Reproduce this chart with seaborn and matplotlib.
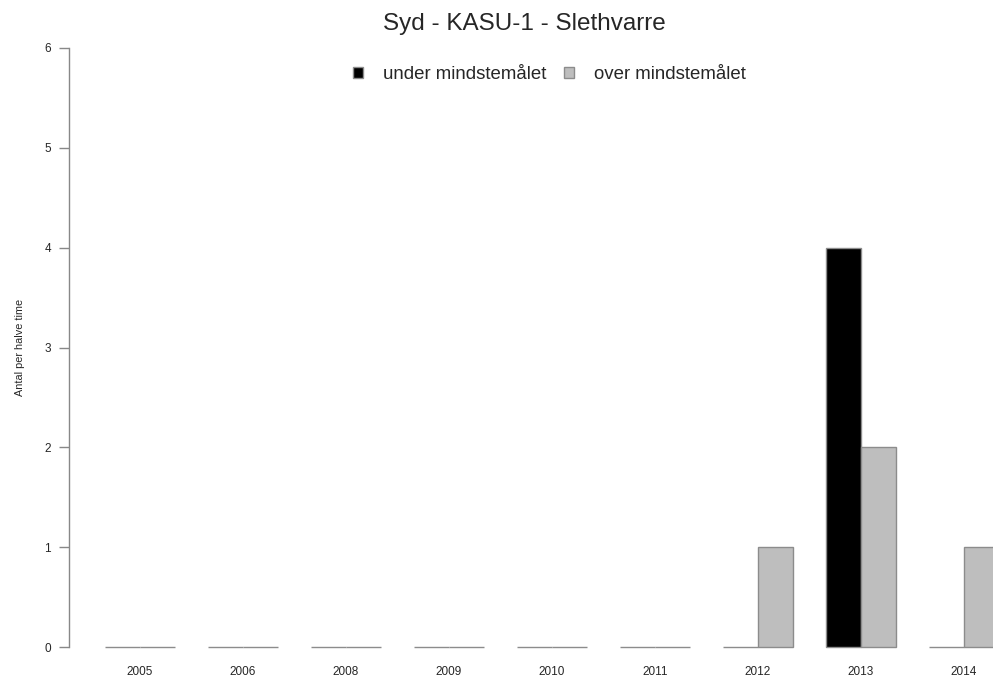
import pandas as pd
import matplotlib
matplotlib.use('Agg')
import matplotlib.pyplot as plt
import seaborn as sns
from matplotlib.patches import Patch

years = ['2005', '2006', '2008', '2009', '2010', '2011', '2012', '2013', '2014']
under = [0, 0, 0, 0, 0, 0, 0, 4, 0]
over = [0, 0, 0, 0, 0, 0, 1, 2, 1]
labels = ['under mindstemålet', 'over mindstemålet']
colors = ['#000000', '#bebebe']

df = pd.DataFrame({
    'Year': years * 2,
    'Value': under + over,
    'Type': [labels[0]] * len(years) + [labels[1]] * len(years),
})

sns.set_style('white')
plt.rcParams['font.family'] = ['Liberation Sans', 'DejaVu Sans']

fig = plt.figure(figsize=(9.93, 6.79), dpi=100)
W, H = 993, 679
ax = fig.add_axes([69 / W, (H - 647) / H, 1 - 69 / W, (647 - 48) / H])

sns.barplot(data=df, x='Year', y='Value', hue='Type', order=years,
            hue_order=labels, palette=colors, width=0.67,
            edgecolor='#8c8c8c', linewidth=1, legend=False, ax=ax)
for p in ax.patches:
    p.set_clip_on(False)

ax.set_xlim((69 - 140) / 103, (993 - 140) / 103)
ax.set_ylim(0, 6)
ax.set_yticks(range(7))
for s in ['top', 'right', 'bottom']:
    ax.spines[s].set_visible(False)
ax.spines['left'].set_color('#888888')
ax.spines['left'].set_linewidth(1)
ax.tick_params(axis='y', left=True, length=7, width=1, color='#888888',
               labelsize=8.5, pad=6)
ax.tick_params(axis='x', bottom=False, labelsize=8.5, pad=10)
ax.set_xlabel('')
ax.set_ylabel('Antal per halve time', fontsize=7.8, labelpad=14)
ax.set_title('Syd - KASU-1 - Slethvarre', fontsize=17.5, pad=13, x=0.493)

handles = [Patch(facecolor=c, edgecolor='#8c8c8c', label=l) for c, l in zip(colors, labels)]
ax.legend(handles=handles, loc='upper center', bbox_to_anchor=(0.52, 0.998),
          ncol=2, frameon=False, fontsize=13.4, handlelength=0.55, handleheight=0.55,
          columnspacing=0.9, handletextpad=1.1)

fig.savefig('out.png', dpi=100)
